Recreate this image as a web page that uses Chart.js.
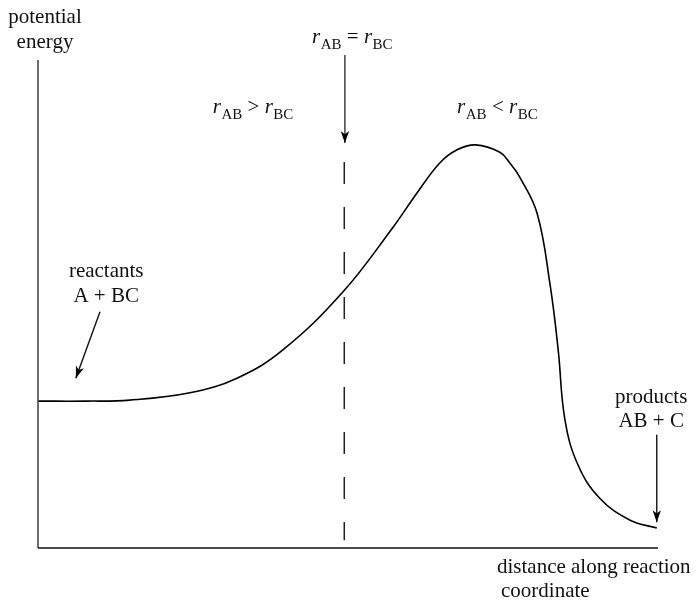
<!DOCTYPE html>
<html><head><meta charset="utf-8">
<script src="https://cdn.jsdelivr.net/npm/chart.js@4"></script>
<style>html,body{margin:0;padding:0;background:#fff}#wrap{width:696px;height:604px}</style>
</head><body><div id="wrap"><canvas id="c" width="696" height="604"></canvas></div>
<script>
// reaction coordinate (0..100) and potential energy (0..100)
const coordX  = [0, 7.6, 14.8, 24.5, 32.1, 39.5, 49.2, 57.3, 61.1, 64.8, 67.6, 70.6, 74.5, 76.1, 77.7, 80.5, 82.6, 83.9, 85.0, 87.1, 90.6, 95.5, 99.8];
const energyY = [30.1, 30.1, 30.3, 31.8, 34.8, 40.6, 52.5, 65.8, 72.7, 78.9, 81.6, 82.6, 81.1, 78.9, 76.0, 68.6, 53.9, 40.6, 26.2, 17.0, 10.2, 5.7, 4.1];

// transition-state divider (dashed)
const dividerX = [49.4, 49.4];
const dividerY = [79.1, 1.6];

// arrows: [start, tip]
const arrowReactX = [10.0, 6.1];
const arrowReactY = [48.4, 34.8];
const arrowTSX = [49.5, 49.5];
const arrowTSY = [101.0, 83.0];
const arrowProdX = [99.8, 99.8];
const arrowProdY = [23.2, 5.3];

// labels (data coords)
const reactantLines = ['reactants', 'A + BC'];
const reactantPos = [11.0, 55.5];
const productLines = ['products', 'AB + C'];
const productPos = [98.9, 29.7];
const yTitleLines = ['potential', 'energy'];
const xTitleLines = ['distance along reaction', 'coordinate'];
const rLabels = [
  {x: 44.2, y: 103.5, op: ' = '},
  {x: 28.2, y: 89.2, op: ' > '},
  {x: 67.6, y: 89.2, op: ' < '}
];

const pts = (xs, ys) => xs.map((x, i) => ({x, y: ys[i]}));

const serif = '"Liberation Serif", "Times New Roman", serif';

const annot = {
  id: 'annot',
  afterDatasetsDraw(chart) {
    const ctx = chart.ctx, xs = chart.scales.x, ys = chart.scales.y, ca = chart.chartArea;
    const P = (x, y) => [xs.getPixelForValue(x), ys.getPixelForValue(y)];
    ctx.save();
    // axes
    ctx.lineWidth = 1.6;
    ctx.strokeStyle = '#4a4a4a';
    ctx.beginPath(); ctx.moveTo(ca.left, ca.top); ctx.lineTo(ca.left, ca.bottom); ctx.stroke();
    ctx.strokeStyle = '#111';
    ctx.beginPath(); ctx.moveTo(ca.left, ca.bottom); ctx.lineTo(ca.right, ca.bottom); ctx.stroke();

    // arrowheads
    [[arrowReactX, arrowReactY], [arrowTSX, arrowTSY], [arrowProdX, arrowProdY]].forEach(([ax, ay]) => {
      const [x0, y0] = P(ax[0], ay[0]);
      const [x1, y1] = P(ax[1], ay[1]);
      const ang = Math.atan2(y1 - y0, x1 - x0);
      const L = 12, W = 4.2;
      ctx.fillStyle = '#000';
      ctx.beginPath();
      ctx.moveTo(x1, y1);
      ctx.lineTo(x1 - L * Math.cos(ang) + W * Math.sin(ang), y1 - L * Math.sin(ang) - W * Math.cos(ang));
      ctx.lineTo(x1 - L * 0.72 * Math.cos(ang), y1 - L * 0.72 * Math.sin(ang));
      ctx.lineTo(x1 - L * Math.cos(ang) - W * Math.sin(ang), y1 - L * Math.sin(ang) + W * Math.cos(ang));
      ctx.closePath();
      ctx.fill();
    });

    ctx.fillStyle = '#111';
    ctx.font = '21px ' + serif;
    ctx.textBaseline = 'alphabetic';
    // y title
    ctx.textAlign = 'center';
    ctx.fillText(yTitleLines[0], ca.left + 7, ca.top - 37);
    ctx.fillText(yTitleLines[1], ca.left + 7, ca.top - 12);
    // x title
    ctx.textAlign = 'left';
    ctx.fillText(xTitleLines[0], ca.right - 161, ca.bottom + 25);
    ctx.fillText(xTitleLines[1], ca.right - 157, ca.bottom + 49);
    // reactants / products
    ctx.textAlign = 'center';
    let [rx, ry] = P(reactantPos[0], reactantPos[1]);
    ctx.fillText(reactantLines[0], rx, ry);
    ctx.fillText(reactantLines[1], rx, ry + 25);
    let [qx, qy] = P(productPos[0], productPos[1]);
    ctx.fillText(productLines[0], qx, qy);
    ctx.fillText(productLines[1], qx, qy + 24);

    // r labels
    ctx.textAlign = 'left';
    rLabels.forEach(lb => {
      let [x, y] = P(lb.x, lb.y);
      const parts = [
        ['r', 'italic 21px ' + serif, 0],
        ['AB', '15px ' + serif, 6],
        [lb.op, '21px ' + serif, 0],
        ['r', 'italic 21px ' + serif, 0],
        ['BC', '15px ' + serif, 6]
      ];
      parts.forEach(([t, f, dy]) => {
        ctx.font = f;
        ctx.fillText(t, x, y + dy);
        x += ctx.measureText(t).width + (t === 'r' ? 0.5 : 0);
      });
    });
    ctx.restore();
  }
};

new Chart(document.getElementById('c'), {
  type: 'scatter',
  data: {
    datasets: [
      {data: pts(coordX, energyY), showLine: true, borderColor: '#000', borderWidth: 1.6, pointRadius: 0, tension: 0.4, clip: false},
      {data: pts(dividerX, dividerY), showLine: true, borderColor: '#222', borderWidth: 1.5, borderDash: [22, 23], pointRadius: 0, clip: false},
      {data: pts(arrowReactX, arrowReactY), showLine: true, borderColor: '#111', borderWidth: 1.4, pointRadius: 0, clip: false},
      {data: pts(arrowTSX, arrowTSY), showLine: true, borderColor: '#333', borderWidth: 1.4, pointRadius: 0, clip: false},
      {data: pts(arrowProdX, arrowProdY), showLine: true, borderColor: '#111', borderWidth: 1.4, pointRadius: 0, clip: false}
    ]
  },
  options: {
    responsive: false,
    animation: false,
    devicePixelRatio: 1,
    layout: {padding: {left: 38, top: 60, right: 38, bottom: 56}},
    plugins: {legend: {display: false}, tooltip: {enabled: false}},
    scales: {
      x: {type: 'linear', min: 0, max: 100, display: false},
      y: {type: 'linear', min: 0, max: 100, display: false}
    }
  },
  plugins: [annot]
});
</script>
</body></html>
